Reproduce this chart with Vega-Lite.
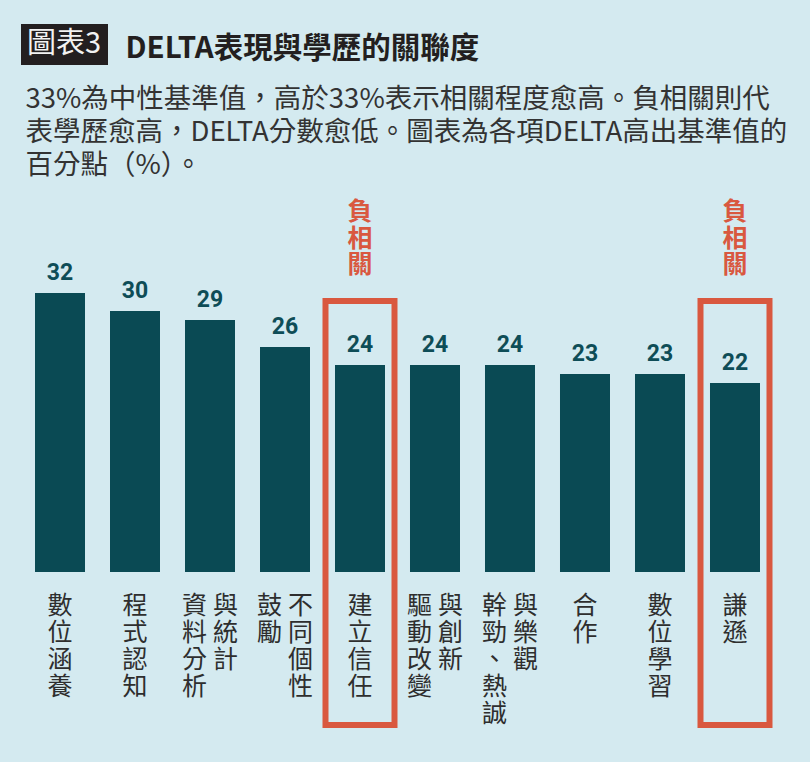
{
  "$schema": "https://vega.github.io/schema/vega-lite/v6.json",
  "autosize": {"type": "none"},
  "padding": {"left": 22.5, "top": 284, "right": 37.5, "bottom": 190},
  "width": 750,
  "height": 288,
  "background": "#d4eaf0",
  "config": {"view": {"stroke": null}, "font": "Noto Sans CJK TC"},
  "title": {
    "text": ["33%為中性基準值，高於33%表示相關程度愈高。負相關則代", "表學歷愈高，DELTA分數愈低。圖表為各項DELTA高出基準值的", "百分點（%）。"],
    "anchor": "start",
    "frame": "group",
    "dx": 3,
    "offset": -155,
    "font": "Noto Sans CJK TC",
    "fontSize": 27.5,
    "fontWeight": "normal",
    "color": "#333333",
    "lineHeight": 33
  },
  "data": {
    "values": [
      {"skill": "數位涵養", "value": 32, "col1": "數\n位\n涵\n養", "col2": null, "neg": false},
      {"skill": "程式認知", "value": 30, "col1": "程\n式\n認\n知", "col2": null, "neg": false},
      {"skill": "資料分析與統計", "value": 29, "col1": "資\n料\n分\n析", "col2": "與\n統\n計", "neg": false},
      {"skill": "鼓勵不同個性", "value": 26, "col1": "鼓\n勵", "col2": "不\n同\n個\n性", "neg": false},
      {"skill": "建立信任", "value": 24, "col1": "建\n立\n信\n任", "col2": null, "neg": true},
      {"skill": "驅動改變與創新", "value": 24, "col1": "驅\n動\n改\n變", "col2": "與\n創\n新", "neg": false},
      {"skill": "幹勁、熱誠與樂觀", "value": 24, "col1": "幹\n勁\n、\n熱\n誠", "col2": "與\n樂\n觀", "neg": false},
      {"skill": "合作", "value": 23, "col1": "合\n作", "col2": null, "neg": false},
      {"skill": "數位學習", "value": 23, "col1": "數\n位\n學\n習", "col2": null, "neg": false},
      {"skill": "謙遜", "value": 22, "col1": "謙\n遜", "col2": null, "neg": true}
    ]
  },
  "encoding": {
    "x": {"field": "skill", "type": "nominal", "sort": null, "axis": null,
          "scale": {"paddingInner": 0.3333, "paddingOuter": 0.1667}}
  },
  "layer": [
    {
      "mark": {"type": "bar", "color": "#0a4a54", "strokeWidth": 0},
      "encoding": {
        "y": {"field": "value", "type": "quantitative", "axis": null,
              "scale": {"domain": [1, 33], "zero": false, "nice": false}},
        "y2": {"datum": 1},
        "stroke": {"datum": "圖表3", "scale": {"range": ["transparent"]},
          "legend": {"orient": "none", "legendX": -1.5, "legendY": -260, "title": "圖表3",
            "titleColor": "#f2f2f2", "titleFontSize": 29, "titleFont": "Noto Sans CJK TC", "titleFontWeight": "normal",
            "fillColor": "#231f20", "padding": 6, "symbolSize": 0, "symbolOpacity": 0, "symbolStrokeWidth": 0,
            "labelExpr": "''", "labelFontSize": 1, "titlePadding": -6, "rowPadding": 0, "zindex": 2}},
        "strokeDash": {"datum": "DELTA表現與學歷的關聯度", "scale": {"range": [[1, 0]]},
          "legend": {"orient": "none", "legendX": 103, "legendY": -249, "title": "DELTA表現與學歷的關聯度",
            "titleColor": "#231f20", "titleFontSize": 29.5, "titleFont": "Noto Sans CJK TC", "titleFontWeight": "bold",
            "titleLimit": 600, "padding": 0, "symbolSize": 0, "symbolOpacity": 0, "symbolStrokeWidth": 0,
            "labelExpr": "''", "labelFontSize": 1, "titlePadding": -5, "rowPadding": 0}}
      }
    },
    {
      "mark": {"type": "text", "font": "Roboto", "fontWeight": "bold", "fontSize": 23, "color": "#0e4d57", "baseline": "alphabetic", "dy": -13},
      "encoding": {
        "y": {"field": "value", "type": "quantitative"},
        "text": {"field": "value", "type": "quantitative"}
      }
    },
    {
      "transform": [{"filter": "datum.neg"}],
      "mark": {"type": "bar", "fill": null, "fillOpacity": 0, "stroke": "#d9583f", "strokeWidth": 6, "width": {"band": 1.38}},
      "encoding": {
        "y": {"datum": 31.1},
        "y2": {"datum": -16}
      }
    },
    {
      "transform": [{"filter": "datum.neg"}],
      "mark": {"type": "text", "text": ["負", "相", "關"], "fontSize": 25, "fontWeight": "bold", "color": "#d9583f", "lineHeight": 26.5, "baseline": "top", "dy": -101},
      "encoding": {
        "y": {"datum": 31.1}
      }
    },
    {
      "transform": [{"filter": "datum.col2 == null"}],
      "mark": {"type": "text", "fontSize": 25, "color": "#2e2e2e", "lineBreak": "\n", "lineHeight": 27, "baseline": "top", "dy": 22},
      "encoding": {
        "y": {"datum": 1},
        "text": {"field": "col1", "type": "nominal"}
      }
    },
    {
      "transform": [{"filter": "datum.col2 != null"}],
      "mark": {"type": "text", "fontSize": 25, "color": "#2e2e2e", "lineBreak": "\n", "lineHeight": 27, "baseline": "top", "dy": 22, "dx": -15.5},
      "encoding": {
        "y": {"datum": 1},
        "text": {"field": "col1", "type": "nominal"}
      }
    },
    {
      "transform": [{"filter": "datum.col2 != null"}],
      "mark": {"type": "text", "fontSize": 25, "color": "#2e2e2e", "lineBreak": "\n", "lineHeight": 27, "baseline": "top", "dy": 22, "dx": 15.5},
      "encoding": {
        "y": {"datum": 1},
        "text": {"field": "col2", "type": "nominal"}
      }
    }
  ]
}
